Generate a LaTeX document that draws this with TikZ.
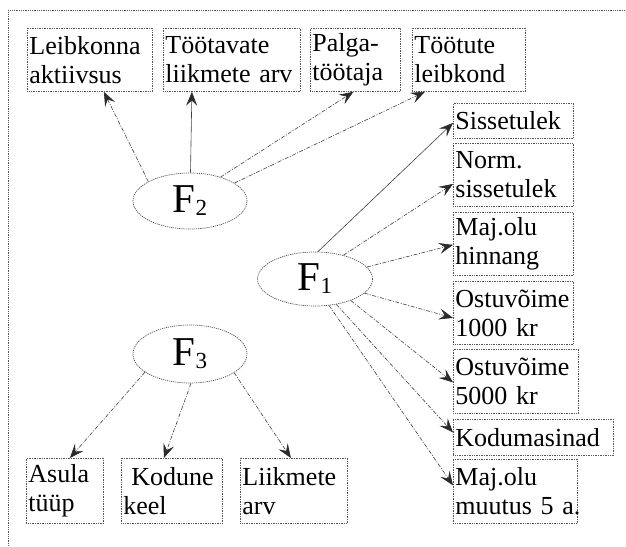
\documentclass[tikz,border=0pt]{standalone}
\usepackage{fontspec}
\setmainfont{Liberation Serif}
\usetikzlibrary{arrows.meta,shapes.geometric}
\definecolor{lineg}{HTML}{404040}
\definecolor{frameg}{HTML}{555555}
\definecolor{tipg}{HTML}{2A2A2A}
\tikzset{
  varbox/.style={draw=frameg, line width=0.8pt, dash pattern=on 1pt off 0.7pt,
    anchor=north west, inner sep=2pt, align=left,
    font=\fontsize{26}{29}\selectfont},
  factor/.style={ellipse, draw=frameg, line width=0.7pt, dash pattern=on 1.2pt off 0.9pt,
    inner sep=0pt},
  link/.style={draw=lineg, line width=0.6pt, dash pattern=on 4pt off 1.5pt on 1pt off 1.5pt,
    -{Stealth[length=14pt,width=11pt,inset=5.5pt,color=tipg,fill=tipg]}},
  solidlink/.style={link, solid},
}
\newcommand{\facname}[1]{{\fontsize{41}{41}\selectfont F}{\fontsize{23}{23}\selectfont\raisebox{-3pt}{#1}}}
\begin{document}
\begin{tikzpicture}[x=1pt,y=-1pt]
  \useasboundingbox (0,0) rectangle (626,546);
  % outer frame (top and left edges)
  \draw[frameg, line width=0.8pt, dash pattern=on 1pt off 0.8pt] (8,546) -- (8,10) -- (626,10);

  % observed variables
  \node[varbox, minimum width=125pt, minimum height=63pt, text width=121pt] (lk) at (27,28) {Leibkonna\\aktiivsus};
  \node[varbox, minimum width=137pt, minimum height=63pt, text width=133pt] (tl) at (163,28) {Töötavate\\liikmete arv};
  \node[varbox, minimum width=90pt, minimum height=63pt, text width=86pt] (pt) at (310,28) {Palga-\\töötaja};
  \node[varbox, minimum width=113pt, minimum height=63pt, text width=109pt] (tu) at (412,28) {Töötute\\leibkond};

  \node[varbox, minimum width=120pt, minimum height=35pt, text width=116pt] (ss) at (453,103) {Sissetulek};
  \node[varbox, minimum width=120pt, minimum height=63pt, text width=116pt] (ns) at (453,143) {Norm.\\sissetulek};
  \node[varbox, minimum width=120pt, minimum height=63pt, text width=116pt] (mh) at (453,212) {Maj.olu\\hinnang};
  \node[varbox, minimum width=120pt, minimum height=63pt, text width=116pt, inner sep=1pt] (o1) at (453,281) {Ostuvõime\\1000 kr};
  \node[varbox, minimum width=125pt, minimum height=64pt, text width=121pt] (o5) at (453,349) {Ostuvõime\\5000 kr};
  \node[varbox, minimum width=160pt, minimum height=36pt, text width=156pt] (km) at (453,419) {Kodumasinad};
  \node[varbox, minimum width=124pt, minimum height=64pt, text width=120pt] (mm) at (453,459) {Maj.olu\\\mbox{muutus 5 a.}};

  \node[varbox, minimum width=77pt, minimum height=65pt, text width=73pt] (at) at (26,458) {Asula\\tüüp};
  \node[varbox, minimum width=101pt, minimum height=65pt, text width=97pt] (kk) at (121,458) {\hspace*{8pt}Kodune\\keel};
  \node[varbox, minimum width=107pt, minimum height=65pt, text width=103pt] (la) at (240,458) {Liikmete\\arv};

  % factors
  \node[factor, minimum width=114pt, minimum height=56pt] (F2) at (190,201) {\facname{2}};
  \node[factor, minimum width=115pt, minimum height=54pt] (F1) at (315,279) {\facname{1}};
  \node[factor, minimum width=114pt, minimum height=58pt] (F3) at (190,354) {\facname{3}};

  % loadings of F2
  \draw[link] (F2.155) -- ([xshift=14pt]lk.south);
  \draw[solidlink] (F2.89) -- ([xshift=-40pt]tl.south);
  \draw[link] (F2.38) -- ([xshift=-2pt]pt.south);
  \draw[link] (F2.22) -- ([xshift=-44pt]tu.south);

  % loadings of F1
  \draw[solidlink] (F1.84) -- ([yshift=-2pt]ss.west);
  \draw[link] (F1.40) -- ([yshift=-9pt]ns.west);
  \draw[link] (F1.13) -- ([yshift=-1pt]mh.west);
  \draw[link] (F1.-16) -- ([yshift=-5pt]o1.west);
  \draw[link] (F1.-31) -- ([yshift=-1pt]o5.west);
  \draw[link] (F1.-50) -- ([yshift=5pt]km.west);
  \draw[link] (F1.-62) -- ([yshift=6pt]mm.west);

  % loadings of F3
  \draw[link] (F3.-158) -- ([xshift=5pt]at.north);
  \draw[link] (F3.-88) -- ([xshift=-8pt]kk.north);
  \draw[link] (F3.-23) -- ([xshift=-3pt]la.north);
\end{tikzpicture}
\end{document}
